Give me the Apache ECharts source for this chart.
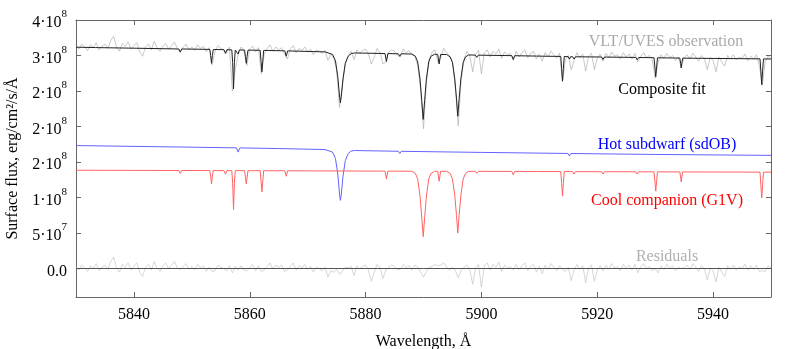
<!DOCTYPE html>
<html>
<head>
<meta charset="utf-8">
<script src="https://cdn.jsdelivr.net/npm/echarts@6/dist/echarts.min.js"></script>
<style>
  html, body { margin: 0; padding: 0; background: #fff; }
  #chart { width: 789px; height: 349px; }
</style>
</head>
<body>
<div id="chart"></div>
<script>
// flux in units of 1e8 erg/cm2/s/A
const xTicks = [5840, 5860, 5880, 5900, 5920, 5940];
const yTickValues = [0, 0.5, 1, 1.5, 2, 2.5, 3, 3.5];
const yTickLabels = ["0.0", "5·10^7", "1·10^8", "2·10^8", "2·10^8", "2·10^8", "3·10^8", "4·10^8"];

// observed spectrum sampled every 0.5 A from 5830
const obsStart = 5830;
const obsStep = 0.5;
const observed = [
  3.14, 3.09, 3.16, 3.12, 3.07, 3.15, 3.11, 3.18, 3.08, 3.13,
  3.16, 3.10, 3.21, 3.27, 3.12, 3.06, 3.17, 3.13, 3.19, 3.09,
  3.14, 3.18, 3.05, 2.99, 3.12, 3.16, 3.08, 3.20, 3.11, 3.06,
  3.13, 3.17, 3.09, 3.14, 3.19, 3.10, 3.04, 3.12, 3.16, 3.08,
  3.12, 3.07, 3.15, 3.10, 3.13, 3.05, 3.11, 2.87, 3.06, 3.14,
  3.10, 3.08, 3.03, 3.12, 2.50, 2.80, 3.01, 3.12, 3.06, 2.86,
  3.09, 3.13, 3.05, 3.11, 2.74, 3.02, 3.10, 3.15, 3.06, 3.12,
  3.08, 3.11, 3.02, 2.95, 3.09, 3.14, 3.04, 3.10, 3.07, 3.12,
  3.05, 3.09, 3.01, 3.08, 3.06, 3.03, 3.07, 2.93, 3.02, 2.96,
  2.80, 2.27, 2.58, 2.90, 3.00, 3.06, 2.94, 3.08, 3.03, 3.07,
  3.09, 3.02, 2.88, 2.98, 3.10, 3.04, 2.88, 2.91, 3.05, 3.08,
  3.06, 3.00, 2.98, 3.09, 3.04, 3.07, 3.01, 2.99, 2.86, 2.52,
  1.97, 2.62, 2.95, 3.05, 3.08, 2.90, 2.97, 3.10, 3.04, 3.00,
  2.92, 2.55, 2.01, 2.66, 2.95, 3.06, 2.99, 2.77, 3.02, 3.07,
  2.74, 3.04, 3.08, 2.98, 3.06, 3.02, 3.09, 2.96, 3.05, 3.01,
  3.03, 2.93, 3.06, 2.98, 3.04, 3.08, 2.97, 3.03, 3.06, 2.95,
  3.02, 2.92, 3.04, 2.98, 3.06, 3.01, 2.96, 3.03, 2.63, 2.94,
  3.00, 2.80, 2.93, 3.04, 2.97, 3.02, 2.78, 2.99, 3.03, 2.80,
  2.96, 3.02, 2.92, 3.03, 2.97, 3.05, 2.99, 3.01, 2.95, 3.04,
  2.98, 3.02, 2.95, 3.03, 2.91, 2.99, 3.04, 2.97, 3.00, 2.94,
  2.68, 2.90, 3.01, 2.96, 3.03, 2.97, 3.00, 2.93, 2.98, 2.83,
  2.97, 3.01, 2.95, 3.03, 2.98, 2.92, 3.00, 2.96, 2.80, 2.97,
  2.93, 2.77, 2.98, 2.91, 2.85, 3.00, 2.95, 3.01, 2.94, 2.98,
  2.96, 3.02, 2.93, 2.99, 2.95, 3.01, 2.85, 2.58, 2.92, 2.99,
  2.96
];
const residuals = [
  0.03, -0.02, 0.05, 0.01, -0.04, 0.04, 0.00, 0.07, -0.03, 0.02,
  0.05, -0.01, 0.10, 0.16, 0.01, -0.05, 0.06, 0.02, 0.08, -0.02,
  0.04, 0.08, -0.05, -0.11, 0.02, 0.06, -0.02, 0.10, 0.01, -0.04,
  0.04, 0.08, 0.00, 0.05, 0.10, 0.01, -0.01, 0.03, 0.07, -0.01,
  0.03, -0.02, 0.06, 0.01, 0.04, -0.04, 0.02, -0.04, -0.03, 0.05,
  0.02, 0.00, -0.03, 0.04, -0.06, 0.03, -0.02, 0.04, -0.02, -0.03,
  0.01, 0.06, -0.03, 0.04, -0.04, -0.02, 0.03, 0.08, -0.01, 0.05,
  0.02, 0.05, -0.04, -0.02, 0.03, 0.08, -0.02, 0.04, 0.01, 0.06,
  -0.01, 0.03, -0.05, 0.02, 0.00, -0.03, 0.02, -0.12, -0.03, -0.05,
  -0.01, -0.08, -0.04, 0.02, 0.01, 0.03, -0.10, 0.04, 0.00, 0.03,
  0.05, -0.02, -0.18, -0.05, 0.06, 0.01, -0.14, -0.02, 0.02, 0.05,
  0.03, -0.02, -0.01, 0.06, 0.01, 0.04, -0.02, 0.05, 0.02, -0.05,
  -0.12, -0.04, 0.02, 0.03, 0.06, 0.04, 0.05, 0.08, 0.02, -0.02,
  0.02, -0.03, -0.13, -0.02, 0.02, 0.05, -0.02, -0.22, 0.01, 0.06,
  -0.26, 0.04, 0.08, -0.02, 0.06, 0.02, 0.09, -0.04, 0.05, 0.01,
  0.03, -0.02, 0.06, -0.01, 0.04, 0.08, -0.03, 0.03, 0.06, -0.05,
  0.03, -0.07, 0.05, -0.01, 0.07, 0.02, -0.03, 0.04, -0.01, -0.04,
  0.02, -0.17, -0.02, 0.06, -0.01, 0.04, -0.20, 0.01, 0.05, -0.18,
  -0.02, 0.04, -0.03, 0.05, -0.01, 0.07, 0.01, 0.03, -0.03, 0.06,
  0.01, 0.05, -0.02, 0.06, -0.06, 0.02, 0.07, 0.00, 0.03, -0.03,
  0.00, -0.06, 0.04, -0.01, 0.06, 0.00, 0.04, -0.03, 0.02, 0.00,
  0.01, 0.05, -0.01, 0.07, 0.02, -0.04, 0.04, 0.00, -0.16, 0.01,
  -0.03, -0.19, 0.02, -0.05, -0.11, 0.04, -0.01, 0.05, -0.02, 0.02,
  0.00, 0.06, -0.02, 0.04, -0.01, 0.05, -0.04, -0.03, -0.04, 0.04,
  0.01
];

// model spectra as [wavelength, flux]
const compositeFit = [
  [5830, 3.117], [5833.35, 3.112], [5833.6, 3.10], [5833.85, 3.111], [5840, 3.103],
  [5847.75, 3.092], [5848.0, 3.05], [5848.25, 3.092],
  [5853.1, 3.086], [5853.25, 3.00], [5853.4, 2.89], [5853.55, 3.00], [5853.7, 3.085],
  [5855.55, 3.082], [5855.8, 3.03], [5856.05, 3.081],
  [5856.9, 3.080], [5857.05, 2.90], [5857.2, 2.53], [5857.35, 2.90], [5857.5, 3.078],
  [5857.8, 3.078], [5858.0, 3.02], [5858.2, 3.078],
  [5859.1, 3.077], [5859.25, 2.99], [5859.4, 2.89], [5859.55, 2.99], [5859.7, 3.076],
  [5861.8, 3.073], [5861.95, 2.92], [5862.1, 2.77], [5862.25, 2.92], [5862.4, 3.072],
  [5866.05, 3.066], [5866.3, 2.99], [5866.55, 3.065],
  [5873, 3.051], [5874.3, 3.015], [5874.8, 2.925], [5875.2, 2.70], [5875.5, 2.43], [5875.65, 2.335],
  [5875.8, 2.42], [5876.1, 2.67], [5876.5, 2.89], [5877.0, 2.99], [5877.5, 3.027], [5877.8, 3.01], [5878.1, 3.036],
  [5883.35, 3.028], [5883.6, 2.916], [5883.85, 3.027],
  [5885.65, 3.024], [5885.9, 2.99], [5886.15, 3.024],
  [5888.0, 3.021], [5888.6, 2.99], [5889.0, 2.91], [5889.4, 2.67], [5889.7, 2.37], [5889.95, 2.10],
  [5890.2, 2.37], [5890.5, 2.67], [5890.9, 2.91], [5891.3, 2.99], [5891.9, 3.017],
  [5892.45, 3.016], [5892.7, 2.88], [5892.95, 3.015],
  [5894.0, 3.014], [5894.6, 2.98], [5895.0, 2.90], [5895.4, 2.67], [5895.7, 2.39], [5895.92, 2.145],
  [5896.15, 2.39], [5896.45, 2.67], [5896.85, 2.90], [5897.25, 2.98], [5897.8, 3.008],
  [5898.95, 3.006], [5899.2, 2.975], [5899.45, 3.005],
  [5905.25, 2.998], [5905.5, 2.945], [5905.75, 2.997],
  [5909.55, 2.992], [5909.8, 2.975], [5910.05, 2.991],
  [5913.7, 2.987], [5913.85, 2.82], [5914.0, 2.64], [5914.15, 2.82], [5914.3, 2.986],
  [5915.0, 2.984], [5915.2, 2.95], [5915.4, 2.983],
  [5915.75, 2.983], [5916.0, 2.95], [5916.25, 2.982],
  [5920.75, 2.979], [5921.0, 2.945], [5921.25, 2.978],
  [5926.65, 2.973], [5926.9, 2.94], [5927.15, 2.972],
  [5929.8, 2.969], [5929.95, 2.84], [5930.1, 2.70], [5930.25, 2.84], [5930.4, 2.968],
  [5934.25, 2.964], [5934.4, 2.89], [5934.5, 2.825], [5934.6, 2.89], [5934.75, 2.963],
  [5948.1, 2.953], [5948.25, 2.78], [5948.4, 2.59], [5948.55, 2.78], [5948.7, 2.952],
  [5950, 2.951]
];

const hotSubdwarf = [
  [5830, 1.732], [5845, 1.715], [5857.7, 1.70], [5858.0, 1.64], [5858.3, 1.699],
  [5865, 1.69], [5873, 1.676], [5874.3, 1.64], [5874.8, 1.55], [5875.2, 1.33], [5875.5, 1.05],
  [5875.65, 0.96], [5875.8, 1.04], [5876.1, 1.30], [5876.5, 1.52], [5877.0, 1.62], [5877.5, 1.655],
  [5877.8, 1.64], [5878.1, 1.662], [5885.65, 1.652], [5885.9, 1.62], [5886.15, 1.651],
  [5900, 1.636], [5914.95, 1.621], [5915.2, 1.585], [5915.45, 1.62], [5930, 1.607], [5950, 1.594]
];

const coolCompanion = [
  [5830, 1.385], [5833.35, 1.384], [5833.6, 1.37], [5833.85, 1.384],
  [5847.75, 1.381], [5848.0, 1.34], [5848.25, 1.381],
  [5853.1, 1.380], [5853.25, 1.30], [5853.4, 1.19], [5853.55, 1.30], [5853.7, 1.380],
  [5855.55, 1.379], [5855.8, 1.33], [5856.05, 1.379],
  [5856.9, 1.379], [5857.05, 1.20], [5857.2, 0.83], [5857.35, 1.20], [5857.5, 1.379],
  [5859.1, 1.378], [5859.25, 1.29], [5859.4, 1.19], [5859.55, 1.29], [5859.7, 1.378],
  [5861.8, 1.378], [5861.95, 1.23], [5862.1, 1.08], [5862.25, 1.23], [5862.4, 1.378],
  [5866.05, 1.377], [5866.3, 1.30], [5866.55, 1.377],
  [5883.35, 1.372], [5883.6, 1.26], [5883.85, 1.372],
  [5888.0, 1.371], [5888.6, 1.34], [5889.0, 1.26], [5889.4, 1.02], [5889.7, 0.72], [5889.95, 0.45],
  [5890.2, 0.72], [5890.5, 1.02], [5890.9, 1.26], [5891.3, 1.34], [5891.9, 1.370],
  [5892.45, 1.370], [5892.7, 1.23], [5892.95, 1.370],
  [5894.0, 1.370], [5894.6, 1.34], [5895.0, 1.26], [5895.4, 1.03], [5895.7, 0.75], [5895.92, 0.50],
  [5896.15, 0.75], [5896.45, 1.03], [5896.85, 1.26], [5897.25, 1.34], [5897.8, 1.369],
  [5898.95, 1.369], [5899.2, 1.34], [5899.45, 1.369],
  [5905.25, 1.368], [5905.5, 1.32], [5905.75, 1.368],
  [5909.55, 1.367], [5909.8, 1.35], [5910.05, 1.367],
  [5913.7, 1.366], [5913.85, 1.20], [5914.0, 1.02], [5914.15, 1.20], [5914.3, 1.366],
  [5915.75, 1.365], [5916.0, 1.33], [5916.25, 1.365],
  [5920.75, 1.364], [5921.0, 1.33], [5921.25, 1.364],
  [5926.65, 1.363], [5926.9, 1.33], [5927.15, 1.363],
  [5929.8, 1.362], [5929.95, 1.23], [5930.1, 1.09], [5930.25, 1.23], [5930.4, 1.362],
  [5934.25, 1.361], [5934.4, 1.29], [5934.5, 1.22], [5934.6, 1.29], [5934.75, 1.361],
  [5948.1, 1.358], [5948.25, 1.18], [5948.4, 0.995], [5948.55, 1.18], [5948.7, 1.358],
  [5950, 1.357]
];

const serif = "Liberation Serif";
const frameColor = "#666";

const onGrid = (values) => values.map((v, i) => [obsStart + i * obsStep, v]);

function tickLabel(value) {
  const idx = yTickValues.findIndex((t) => Math.abs(t - value) < 1e-6);
  if (idx < 0) return "";
  const parts = yTickLabels[idx].split("^");
  return parts.length > 1 ? `{b|${parts[0]}}{s|${parts[1]}}` : `{b|${parts[0]}}`;
}

const chart = echarts.init(document.getElementById("chart"), null, { renderer: "canvas" });

const baseAxis = {
  type: "value",
  axisLine: { show: true, onZero: false, lineStyle: { color: frameColor, width: 1 } },
  axisTick: { show: true, inside: true, length: 5, lineStyle: { color: frameColor } },
  splitLine: { show: false }
};

chart.setOption({
  animation: false,
  grid: { left: 76, right: 18, top: 20, bottom: 52, outerBoundsMode: "none", containLabel: false },
  xAxis: [
    {
      ...baseAxis,
      position: "bottom",
      min: 5830,
      max: 5950,
      axisTick: { ...baseAxis.axisTick, customValues: xTicks },
      axisLabel: {
        customValues: xTicks,
        formatter: (v) => String(v),
        color: "#000",
        fontFamily: serif,
        fontSize: 16,
        margin: 10
      },
      name: "Wavelength, Å",
      nameLocation: "middle",
      nameGap: 37,
      nameTextStyle: { color: "#000", fontFamily: serif, fontSize: 16 }
    },
    {
      ...baseAxis,
      position: "top",
      min: 5830,
      max: 5950,
      axisTick: { ...baseAxis.axisTick, customValues: xTicks },
      axisLabel: { show: false }
    }
  ],
  yAxis: [
    {
      ...baseAxis,
      position: "left",
      min: -0.4,
      max: 3.5,
      axisTick: { ...baseAxis.axisTick, customValues: yTickValues },
      axisLabel: {
        customValues: yTickValues,
        margin: 9,
        formatter: tickLabel,
        rich: {
          b: { fontFamily: serif, fontSize: 16, color: "#000", lineHeight: 22, verticalAlign: "bottom" },
          s: { fontFamily: serif, fontSize: 11, color: "#000", lineHeight: 22, verticalAlign: "top", padding: [0, 0, 6, 0] }
        }
      },
      name: "Surface flux, erg/cm²/s/Å",
      nameLocation: "middle",
      nameGap: 50,
      nameTextStyle: { color: "#000", fontFamily: serif, fontSize: 16 }
    },
    {
      ...baseAxis,
      position: "right",
      min: -0.4,
      max: 3.5,
      axisTick: { ...baseAxis.axisTick, customValues: yTickValues },
      axisLabel: { show: false }
    }
  ],
  series: [
    {
      name: "VLT/UVES observation",
      type: "line",
      data: onGrid(observed),
      showSymbol: false,
      lineStyle: { color: "#b0b0b0", width: 0.7 },
      z: 2
    },
    {
      name: "Composite fit",
      type: "line",
      data: compositeFit,
      showSymbol: false,
      lineStyle: { color: "#222222", width: 1 },
      z: 3
    },
    {
      name: "Hot subdwarf (sdOB)",
      type: "line",
      data: hotSubdwarf,
      showSymbol: false,
      lineStyle: { color: "#6262ff", width: 1 },
      z: 3
    },
    {
      name: "Cool companion (G1V)",
      type: "line",
      data: coolCompanion,
      showSymbol: false,
      lineStyle: { color: "#ff6262", width: 1 },
      z: 3
    },
    {
      name: "Residuals",
      type: "line",
      data: onGrid(residuals),
      showSymbol: false,
      lineStyle: { color: "#c4c4c4", width: 0.7 },
      z: 2,
      markLine: {
        silent: true,
        symbol: "none",
        label: { show: false },
        lineStyle: { color: "#555", width: 1, type: "solid" },
        data: [{ yAxis: 0 }]
      }
    }
  ],
  graphic: [
    { type: "text", x: 666, y: 42, style: { text: "VLT/UVES observation", fill: "#aaaaaa", font: `16px ${serif}`, align: "center", verticalAlign: "middle", textAlign: "center", textVerticalAlign: "middle" } },
    { type: "text", x: 662, y: 90, style: { text: "Composite fit", fill: "#000000", font: `16px ${serif}`, align: "center", verticalAlign: "middle", textAlign: "center", textVerticalAlign: "middle" } },
    { type: "text", x: 667, y: 145, style: { text: "Hot subdwarf (sdOB)", fill: "#0000ff", font: `16px ${serif}`, align: "center", verticalAlign: "middle", textAlign: "center", textVerticalAlign: "middle" } },
    { type: "text", x: 667, y: 201, style: { text: "Cool companion (G1V)", fill: "#ff0000", font: `16px ${serif}`, align: "center", verticalAlign: "middle", textAlign: "center", textVerticalAlign: "middle" } },
    { type: "text", x: 667, y: 257, style: { text: "Residuals", fill: "#b0b0b0", font: `16px ${serif}`, align: "center", verticalAlign: "middle", textAlign: "center", textVerticalAlign: "middle" } }
  ]
});
</script>
</body>
</html>
